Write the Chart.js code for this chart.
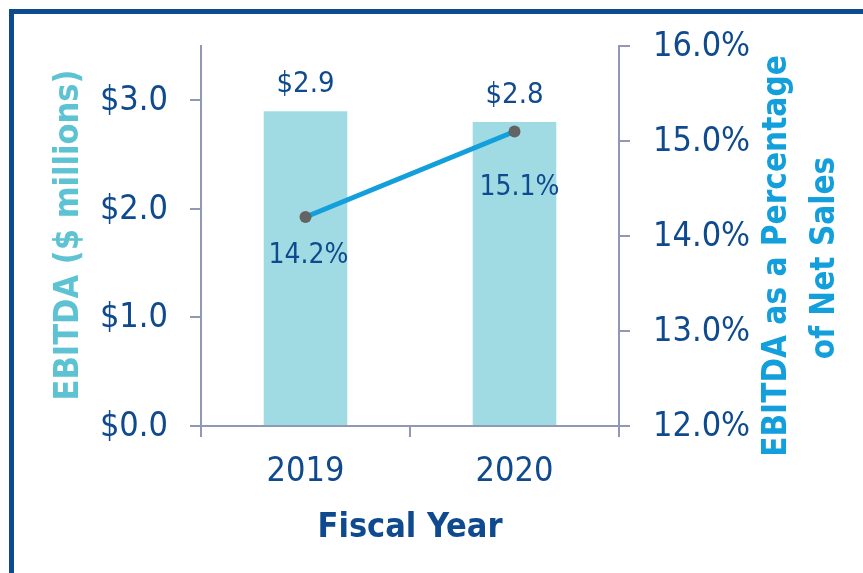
<!DOCTYPE html>
<html><head><meta charset="utf-8">
<script src="https://cdn.jsdelivr.net/npm/chart.js@4.4.0/dist/chart.umd.min.js"></script>
<style>
html,body{margin:0;padding:0;background:#fff;}
#wrap{position:relative;width:863px;height:573px;overflow:hidden;background:#fff;}
#frame{position:absolute;left:9px;top:9px;width:1000px;height:1000px;border-left:5px solid #0d4a8f;border-top:5px solid #0d4a8f;}
canvas{position:absolute;left:0;top:0;}
</style></head><body>
<div id="wrap"><div id="frame"></div><canvas id="c" width="863" height="573"></canvas></div>
<script>
// ---- data ----
const categories = ['2019', '2020'];
const ebitdaMillions = [2.9, 2.8];
const ebitdaPctOfSales = [14.2, 15.1];
const leftAxisMin = 0, leftAxisMax = 3.5, leftAxisStep = 1, leftAxisLastTick = 3;
const rightAxisMin = 12, rightAxisMax = 16, rightAxisStep = 1;
const xAxisTitle = 'Fiscal Year';
const leftAxisTitle = 'EBITDA ($ millions)';
const rightAxisTitleLines = ['EBITDA as a Percentage', 'of Net Sales'];

// ---- style ----
const FONT = "'DejaVu Sans Condensed', 'DejaVu Sans', sans-serif";
const DARK = '#0f4a8e';
const AXIS = '#9198b6';
const BAR = '#a0dbe4';
const LINE = '#139fdb';
const TEAL = '#5dc3d3';
const pctLabelOffset = [[3, 46], [5, 63]];

const decor = {
  id: 'decor',
  afterDraw(chart) {
    const ctx = chart.ctx;
    const ca = chart.chartArea;
    ctx.save();
    ctx.fillStyle = DARK;
    ctx.textAlign = 'center';
    ctx.textBaseline = 'alphabetic';
    ctx.font = `29px ${FONT}`;
    chart.getDatasetMeta(0).data.forEach((bar, i) => {
      ctx.fillText('$' + ebitdaMillions[i].toFixed(1), bar.x, bar.y - 19);
    });
    ctx.font = `28px ${FONT}`;
    chart.getDatasetMeta(1).data.forEach((pt, i) => {
      ctx.fillText(ebitdaPctOfSales[i].toFixed(1) + '%', pt.x + pctLabelOffset[i][0], pt.y + pctLabelOffset[i][1]);
    });
    // x title
    ctx.font = `bold 34px ${FONT}`;
    ctx.fillText(xAxisTitle, (ca.left + ca.right) / 2, 537);
    // left title
    ctx.save();
    ctx.fillStyle = TEAL;
    ctx.translate(78, 235);
    ctx.rotate(-Math.PI / 2);
    ctx.fillText(leftAxisTitle, 0, 0);
    ctx.restore();
    // right title
    ctx.fillStyle = LINE;
    ctx.font = `bold 33px ${FONT}`;
    const rx = [786, 834], ry = [256, 258];
    rightAxisTitleLines.forEach((t, i) => {
      ctx.save();
      ctx.translate(rx[i], ry[i]);
      ctx.rotate(-Math.PI / 2);
      ctx.fillText(t, 0, 0);
      ctx.restore();
    });
    ctx.restore();
  }
};

new Chart(document.getElementById('c'), {
  type: 'bar',
  data: {
    labels: categories,
    datasets: [
      {
        type: 'bar', label: 'EBITDA', data: ebitdaMillions, yAxisID: 'yL',
        backgroundColor: BAR, barPercentage: 0.4, categoryPercentage: 1, order: 2
      },
      {
        type: 'line', label: 'EBITDA %', data: ebitdaPctOfSales, yAxisID: 'yR',
        borderColor: LINE, borderWidth: 5, pointRadius: 6, pointHoverRadius: 6,
        pointBackgroundColor: '#636363', pointBorderWidth: 0, order: 1, clip: false
      }
    ]
  },
  options: {
    responsive: false, animation: false, devicePixelRatio: 1,
    layout: { padding: { top: 46, left: 0, right: 0, bottom: 0 } },
    plugins: { legend: { display: false }, tooltip: { enabled: false } },
    scales: {
      x: {
        offset: true,
        grid: { offset: true, drawOnChartArea: false, drawTicks: true, tickLength: 11, color: AXIS, lineWidth: 2 },
        border: { display: true, color: AXIS, width: 2 },
        ticks: { color: DARK, font: { family: FONT, size: 34 }, padding: 15 },
        afterFit(s) { s.height = 147; }
      },
      yL: {
        position: 'left', min: leftAxisMin, max: leftAxisMax,
        grid: { drawOnChartArea: false, drawTicks: true, tickLength: 11, color: AXIS, lineWidth: 2 },
        border: { display: true, color: AXIS, width: 2 },
        ticks: { stepSize: leftAxisStep, color: DARK, font: { family: FONT, size: 34 }, padding: 22, labelOffset: 1,
          callback: v => '$' + Number(v).toFixed(1) },
        afterBuildTicks(s) { s.ticks = s.ticks.filter(t => t.value <= leftAxisLastTick); },
        afterFit(s) { s.width = 201; }
      },
      yR: {
        position: 'right', min: rightAxisMin, max: rightAxisMax,
        grid: { drawOnChartArea: false, drawTicks: true, tickLength: 11, color: AXIS, lineWidth: 2 },
        border: { display: true, color: AXIS, width: 2 },
        ticks: { stepSize: rightAxisStep, color: DARK, font: { family: FONT, size: 34 }, padding: 23, labelOffset: 1,
          callback: v => Number(v).toFixed(1) + '%' },
        afterFit(s) { s.width = 244; }
      }
    }
  },
  plugins: [decor]
});
</script>
</body></html>
